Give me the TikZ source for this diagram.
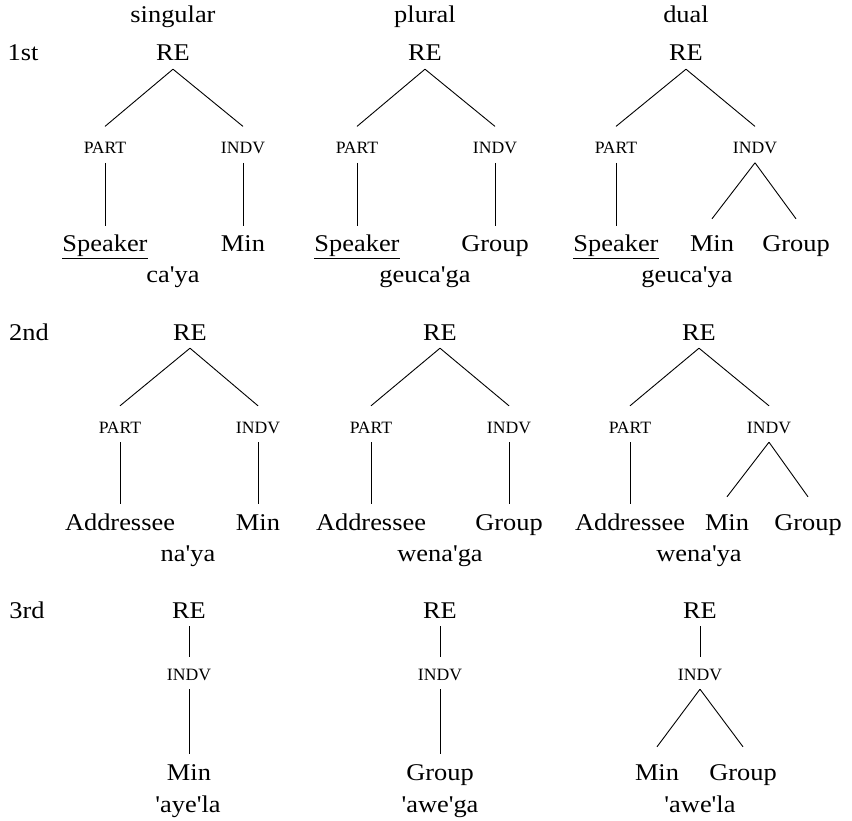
\documentclass[tikz,border=0pt]{standalone}
\usepackage{fontspec}
\newfontfamily\mainf{Liberation Serif}[FakeStretch=1.1]
\newfontfamily\smallf{Liberation Serif}[FakeStretch=1.02]
\tikzset{
  tx/.style={font=\fontsize{24}{28}\mainf, inner sep=0pt, anchor=base},
  tn/.style={tx, text height=25.5pt, text depth=8pt},
  tnb/.style={tn, text height=33pt},
  cat/.style={font=\fontsize{17.3}{20}\smallf, inner sep=0pt, anchor=base, text height=27pt, text depth=9pt},
  catc/.style={cat, text height=22.6pt},
  edge/.style={line width=0.9pt}
}
\begin{document}
\begin{tikzpicture}[x=1pt,y=-1pt]
\useasboundingbox (0,0) rectangle (852,821);
% headers
\node[tx] (h1) at (173,23) {singular};
\node[tx] (h2) at (425,23) {plural};
\node[tx] (h3) at (686,23) {dual};
% ---------- row 1
\node[tx] (p1) at (23,61) {1st};
\node[tn] (re11) at (173,61) {RE};
\node[cat] (pa11) at (105,153.6) {PART};
\node[cat] (in11) at (243,153.6) {INDV};
\node[tn] (sp11) at (105,252) {\underline{Speaker}};
\node[tn] (mi11) at (243,252) {Min};
\node[tx] (g11) at (173,282.5) {ca'ya};
\draw[edge] (re11.south) -- (pa11.north);
\draw[edge] (re11.south) -- (in11.north);
\draw[edge] (pa11.south) -- (sp11.north);
\draw[edge] (in11.south) -- (mi11.north);

\node[tn] (re12) at (425,61) {RE};
\node[cat] (pa12) at (357,153.6) {PART};
\node[cat] (in12) at (495,153.6) {INDV};
\node[tn] (sp12) at (357,252) {\underline{Speaker}};
\node[tn] (gr12) at (495,252) {Group};
\node[tx] (g12) at (425,282.5) {geuca'ga};
\draw[edge] (re12.south) -- (pa12.north);
\draw[edge] (re12.south) -- (in12.north);
\draw[edge] (pa12.south) -- (sp12.north);
\draw[edge] (in12.south) -- (gr12.north);

\node[tn] (re13) at (686,61) {RE};
\node[cat] (pa13) at (616,153.6) {PART};
\node[cat] (in13) at (755,153.6) {INDV};
\node[tn] (sp13) at (616,252) {\underline{Speaker}};
\node[tnb] (mi13) at (712,252) {Min};
\node[tnb] (gr13) at (796,252) {Group};
\node[tx] (g13) at (687,282.5) {geuca'ya};
\draw[edge] (re13.south) -- (pa13.north);
\draw[edge] (re13.south) -- (in13.north);
\draw[edge] (pa13.south) -- (sp13.north);
\draw[edge] (in13.south) -- (mi13.north);
\draw[edge] (in13.south) -- (gr13.north);

% ---------- row 2
\node[tx] (p2) at (29,340) {2nd};
\node[tn] (re21) at (190,340) {RE};
\node[cat] (pa21) at (120,433) {PART};
\node[cat] (in21) at (258,433) {INDV};
\node[tn] (ad21) at (120,530) {Addressee};
\node[tn] (mi21) at (258,530) {Min};
\node[tx] (g21) at (188,561.5) {na'ya};
\draw[edge] (re21.south) -- (pa21.north);
\draw[edge] (re21.south) -- (in21.north);
\draw[edge] (pa21.south) -- (ad21.north);
\draw[edge] (in21.south) -- (mi21.north);

\node[tn] (re22) at (440,340) {RE};
\node[cat] (pa22) at (371,433) {PART};
\node[cat] (in22) at (509,433) {INDV};
\node[tn] (ad22) at (371,530) {Addressee};
\node[tn] (gr22) at (509,530) {Group};
\node[tx] (g22) at (440,561.5) {wena'ga};
\draw[edge] (re22.south) -- (pa22.north);
\draw[edge] (re22.south) -- (in22.north);
\draw[edge] (pa22.south) -- (ad22.north);
\draw[edge] (in22.south) -- (gr22.north);

\node[tn] (re23) at (699,340) {RE};
\node[cat] (pa23) at (630,433) {PART};
\node[cat] (in23) at (769,433) {INDV};
\node[tn] (ad23) at (630,530) {Addressee};
\node[tnb] (mi23) at (727,530) {Min};
\node[tnb] (gr23) at (808,530) {Group};
\node[tx] (g23) at (699,561.5) {wena'ya};
\draw[edge] (re23.south) -- (pa23.north);
\draw[edge] (re23.south) -- (in23.north);
\draw[edge] (pa23.south) -- (ad23.north);
\draw[edge] (in23.south) -- (mi23.north);
\draw[edge] (in23.south) -- (gr23.north);

% ---------- row 3
\node[tx] (p3) at (27,618) {3rd};
\node[tn] (re31) at (189,618) {RE};
\node[catc] (in31) at (189,680) {INDV};
\node[tn] (mi31) at (189,780) {Min};
\node[tx] (g31) at (188,812) {'aye'la};
\draw[edge] (re31.south) -- (in31.north);
\draw[edge] (in31.south) -- (mi31.north);

\node[tn] (re32) at (440,618) {RE};
\node[catc] (in32) at (440,680) {INDV};
\node[tn] (gr32) at (440,780) {Group};
\node[tx] (g32) at (440,812) {'awe'ga};
\draw[edge] (re32.south) -- (in32.north);
\draw[edge] (in32.south) -- (gr32.north);

\node[tn] (re33) at (700,618) {RE};
\node[catc] (in33) at (700,680) {INDV};
\node[tnb] (mi33) at (657,780) {Min};
\node[tnb] (gr33) at (743,780) {Group};
\node[tx] (g33) at (700,812) {'awe'la};
\draw[edge] (re33.south) -- (in33.north);
\draw[edge] (in33.south) -- (mi33.north);
\draw[edge] (in33.south) -- (gr33.north);
\end{tikzpicture}
\end{document}
